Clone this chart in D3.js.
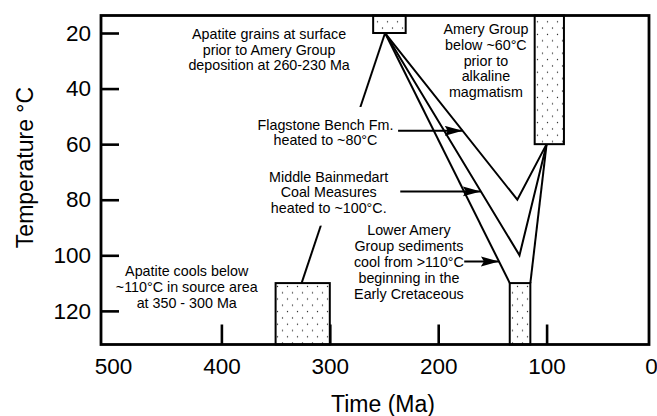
<!DOCTYPE html>
<html>
<head>
<meta charset="utf-8">
<script src="https://cdn.jsdelivr.net/npm/d3@7"></script>
<style>
  html, body { margin: 0; padding: 0; background: #fff; }
  svg { display: block; font-family: "Liberation Sans", Arial, Helvetica, sans-serif; }
</style>
</head>
<body>
<svg id="chart" width="657" height="416"></svg>
<script>
// Axis ticks
const timeTicks = [500, 400, 300, 200, 100, 0];
const timeInnerTicks = [400, 300, 200, 100];
const tempTicks = [20, 40, 60, 80, 100, 120];
const tempExtent = [13.7, 132.1];

// Stippled time–temperature windows (Ma, °C)
const boxOlderMa   = [350, 260, 111, 134];
const boxYoungerMa = [300, 230, 84, 115];
const boxCoolT     = [110, 13.7, 13.7, 110];
const boxHotT      = [132.1, 20, 60, 132.1];

// Thermal history paths, vertices as [Ma, °C]
const sourcePath     = [[326, 110], [249, 20]];
const flagstonePath  = [[249, 20], [127, 80], [100, 60]];
const bainmedartPath = [[249, 20], [125, 100], [100, 60]];
const lowerAmeryIn   = [[249, 20], [134, 110]];
const lowerAmeryOut  = [[115, 110], [100, 60]];

// Annotations: text lines, anchor (Ma, °C of first baseline)
const labelLines = [
  ["Apatite grains at surface", "prior to Amery Group", "deposition at 260-230 Ma"],
  ["Amery Group", "below ~60°C", "prior to", "alkaline", "magmatism"],
  ["Flagstone Bench Fm.", "heated to ~80°C"],
  ["Middle Bainmedart", "Coal Measures", "heated to ~100°C."],
  ["Lower Amery", "Group sediments", "cool from >110°C", "beginning in the", "Early Cretaceous"],
  ["Apatite cools below", "~110°C in source area", "at 350 - 300 Ma"]
];
const labelMa = [356, 156, 304, 301, 227, 432];
const labelT  = [22.2, 20.4, 54.9, 73.5, 92.7, 107.4];
const labelLeading = [15.4, 15.7, 15, 15.5, 16.1, 16.2];

// Pointer arrows: tail time, temperature level, target path
const arrowTailMa = [237, 235, 176];
const arrowT      = [55.2, 77, 102.2];
const arrowPath   = [flagstonePath, bainmedartPath, lowerAmeryIn];

// ---- layout ----
const plot = { left: 101, right: 649, top: 15.5, bottom: 344.5 };
const svg = d3.select("#chart");

const x = d3.scaleLinear().domain([500, 0]).range([113, 655]);
const y = d3.scaleLinear().domain(tempExtent).range([plot.top, plot.bottom]);

const defs = svg.append("defs");
const pat = defs.append("pattern")
  .attr("id", "stipple").attr("patternUnits", "userSpaceOnUse")
  .attr("width", 10).attr("height", 12.6);
pat.append("rect").attr("width", 10).attr("height", 12.6).attr("fill", "#fff");
pat.append("circle").attr("cx", 2.5).attr("cy", 3).attr("r", 0.7).attr("fill", "#222");
pat.append("circle").attr("cx", 7.5).attr("cy", 9.3).attr("r", 0.7).attr("fill", "#222");

defs.append("marker")
  .attr("id", "head").attr("markerUnits", "userSpaceOnUse")
  .attr("markerWidth", 19).attr("markerHeight", 11)
  .attr("refX", 18).attr("refY", 5).attr("orient", "auto")
  .append("path").attr("d", "M0,0 L18,5 L0,10 L3,5 Z").attr("fill", "#000");

// Stippled boxes
svg.append("g").selectAll("rect")
  .data(boxOlderMa.map((d, i) => i))
  .join("rect")
  .attr("x", i => x(boxOlderMa[i]))
  .attr("width", i => x(boxYoungerMa[i]) - x(boxOlderMa[i]))
  .attr("y", i => y(boxCoolT[i]))
  .attr("height", i => y(boxHotT[i]) - y(boxCoolT[i]))
  .attr("fill", "url(#stipple)")
  .attr("stroke", "#000").attr("stroke-width", 2);

// Thermal history lines
const line = d3.line().x(d => x(d[0])).y(d => y(d[1]));
svg.append("g").selectAll("path")
  .data([sourcePath, flagstonePath, bainmedartPath, lowerAmeryIn, lowerAmeryOut])
  .join("path")
  .attr("d", line)
  .attr("fill", "none").attr("stroke", "#000")
  .attr("stroke-width", 2).attr("stroke-linejoin", "miter");

// Labels
const labelG = svg.append("g");
const labels = labelLines.map((lines, i) => {
  const t = labelG.append("text")
    .attr("text-anchor", "middle")
    .attr("font-size", 14.3)
    .attr("fill", "#000");
  lines.forEach((s, k) => {
    t.append("tspan")
      .attr("x", x(labelMa[i]))
      .attr("y", y(labelT[i]) + k * labelLeading[i])
      .text(s);
  });
  return t;
});

// White ground behind the two heating labels, which sit over the source path
const b1 = labels[2].node().getBBox(), b2 = labels[3].node().getBBox();
const mx0 = Math.min(b1.x, b2.x) - 4, mx1 = Math.max(b1.x + b1.width, b2.x + b2.width) + 4;
const my0 = b1.y - 10, my1 = b2.y + b2.height + 10;
labelG.insert("rect", ":first-child")
  .attr("x", mx0).attr("y", my0)
  .attr("width", mx1 - mx0).attr("height", my1 - my0)
  .attr("fill", "#fff");

// Arrows pointing at the paths
function pointOn(path, T) {
  const p0 = path[0], p1 = path[1];
  const f = (T - p0[1]) / (p1[1] - p0[1]);
  return [p0[0] + f * (p1[0] - p0[0]), T];
}
svg.append("g").selectAll("line")
  .data(arrowT.map((d, i) => i))
  .join("line")
  .attr("x1", i => x(arrowTailMa[i]))
  .attr("y1", i => y(arrowT[i]))
  .attr("x2", i => x(pointOn(arrowPath[i], arrowT[i])[0]))
  .attr("y2", i => y(arrowT[i]))
  .attr("stroke", "#000").attr("stroke-width", 2)
  .attr("marker-end", "url(#head)");

// Axes
const gx = svg.append("g")
  .attr("transform", `translate(0,${plot.bottom})`)
  .call(d3.axisBottom(x).tickValues(timeTicks).tickFormat(d3.format("d"))
    .tickSizeInner(-20).tickSizeOuter(0).tickPadding(14));
gx.select(".domain").remove();
gx.selectAll(".tick").filter(d => !timeInnerTicks.includes(d)).select("line").remove();
gx.selectAll("line").attr("stroke-width", 2.6);
gx.selectAll("text").attr("font-size", 22.5)
  .attr("font-family", "'Liberation Sans', Arial, Helvetica, sans-serif").attr("fill", "#000");
// keep the end label inside the page, under the right frame edge
gx.selectAll(".tick").filter(d => d === 0).select("text").attr("dx", -4);

const gy = svg.append("g")
  .attr("transform", `translate(${plot.left},0)`)
  .call(d3.axisLeft(y).tickValues(tempTicks).tickFormat(d3.format("d"))
    .tickSizeInner(-18).tickSizeOuter(0).tickPadding(10));
gy.select(".domain").remove();
gy.selectAll("line").attr("stroke-width", 2.6);
gy.selectAll("text").attr("font-size", 22.5)
  .attr("font-family", "'Liberation Sans', Arial, Helvetica, sans-serif").attr("fill", "#000");

// Plot frame
svg.append("rect")
  .attr("x", plot.left).attr("y", plot.top)
  .attr("width", plot.right - plot.left).attr("height", plot.bottom - plot.top)
  .attr("fill", "none").attr("stroke", "#000").attr("stroke-width", 2.8);

// Axis titles
svg.append("text")
  .attr("x", 383).attr("y", 411.5)
  .attr("text-anchor", "middle").attr("font-size", 23)
  .text("Time (Ma)");
svg.append("text")
  .attr("transform", "translate(33,167.5) rotate(-90)")
  .attr("text-anchor", "middle").attr("font-size", 23)
  .text("Temperature °C");
</script>
</body>
</html>
